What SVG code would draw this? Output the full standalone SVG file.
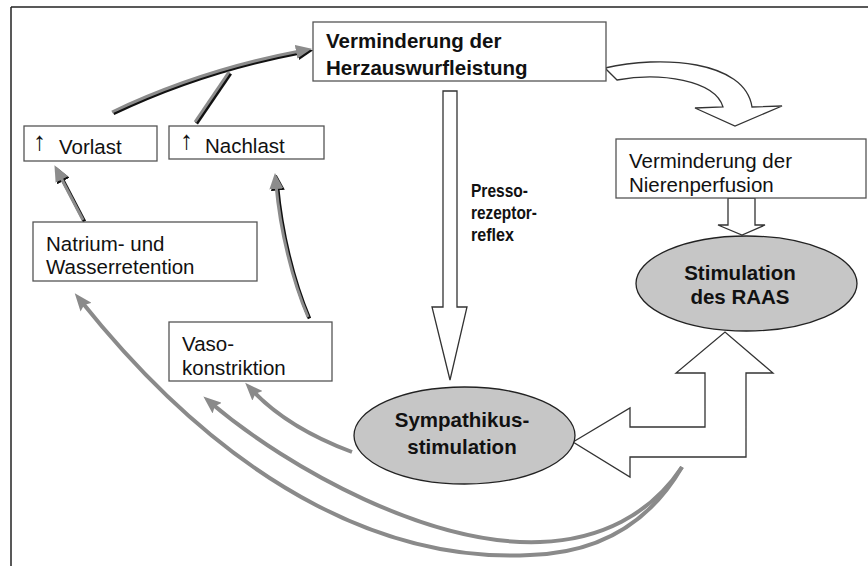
<svg xmlns="http://www.w3.org/2000/svg" width="868" height="566" viewBox="0 0 868 566">
<style>
.box{fill:#fff;stroke:#555;stroke-width:1.3}
.ell{fill:#c6c6c6;stroke:#222;stroke-width:1.3}
.hollow{fill:#fff;stroke:#333;stroke-width:1.3;stroke-linejoin:miter}
.t{font-family:"Liberation Sans",Arial,sans-serif;font-size:20.5px;fill:#111}
.b{font-weight:bold}
.ps{font-family:"Liberation Sans",Arial,sans-serif;font-size:18.5px;font-weight:bold;fill:#111}
.up{font-family:"Liberation Sans",Arial,sans-serif;font-size:26px;fill:#111}
.g{fill:none;stroke:#8a8a8a;stroke-width:4}
.dk{fill:none;stroke:#111;stroke-width:3.5}
.dg{fill:none;stroke:#8c8c8c;stroke-width:3}
</style>
<defs>
<marker id="hg" viewBox="0 0 18 14" refX="8" refY="7" markerWidth="18" markerHeight="14" orient="auto" markerUnits="userSpaceOnUse">
<path d="M0,0 L18,7 L0,14 L3,7 Z" fill="#8a8a8a"/>
</marker>
<marker id="hk" viewBox="0 0 16 14" refX="4" refY="7" markerWidth="16" markerHeight="14" orient="auto" markerUnits="userSpaceOnUse">
<path d="M0,0 L16,7 L0,14 Z" fill="#111"/>
</marker>
<marker id="hd" viewBox="0 0 16 14" refX="4" refY="7" markerWidth="16" markerHeight="14" orient="auto" markerUnits="userSpaceOnUse">
<path d="M0,0 L16,7 L0,14 Z" fill="#8c8c8c"/>
</marker>
</defs>
<g id="frame" fill="none" stroke="#222" stroke-width="1.5">
<line x1="11" y1="7" x2="868" y2="7"/>
<line x1="11" y1="7" x2="11" y2="566"/>
</g>
<g id="connectors">
<path class="hollow" d="M605,68 C660,55 745,60 752,107 L782,106 L735,126 L695,108 L723,107 C715,80 660,72 617,80 Z"/>
<path class="hollow" d="M443,91 L457,91 L457,307 L467,307 L450,380 L432,307 L443,307 Z"/>
<path class="hollow" d="M728,198 L755,198 L755,225 L765,225 L742,235 L718,225 L728,225 Z"/>
<path class="hollow" d="M573,442 L630,408 L630,427 L705,427 L705,373 L676,373 L725,332 L773,373 L746,373 L746,457 L630,457 L630,477 Z"/>
<g transform="translate(1.5,1.5)">
<path class="dk" d="M112,112 Q200,70 300,51" marker-end="url(#hk)"/>
<path class="dk" d="M195,122 L229,72"/>
<path class="dk" d="M83,220 L60,176" marker-end="url(#hk)"/>
<path class="dk" d="M308,317 C292,280 280,230 276,185" marker-end="url(#hk)"/>
</g>
<path class="dg" d="M112,112 Q200,70 300,51" marker-end="url(#hd)"/>
<path class="dg" d="M195,122 L229,72"/>
<path class="dg" d="M83,220 L60,176" marker-end="url(#hd)"/>
<path class="dg" d="M308,317 C292,280 280,230 276,185" marker-end="url(#hd)"/>
<path class="g" d="M352,452 C320,440 280,420 252,390" marker-end="url(#hg)"/>
<path class="g" d="M682,467 C650,515 600,540 540,542 C430,546 290,470 211,403" marker-end="url(#hg)"/>
<path class="g" d="M682,467 C650,522 600,553 530,555 C400,562 240,500 81,301" marker-end="url(#hg)"/>
</g>
<g id="herzauswurf">
<rect class="box" x="313" y="22" width="293" height="59"/>
<text class="t b" x="326" y="48">Verminderung der</text>
<text class="t b" x="326" y="75">Herzauswurfleistung</text>
</g>
<g id="vorlast">
<rect class="box" x="24" y="126" width="133" height="35"/>
<text class="up" x="33" y="150">↑</text>
<text class="t" x="59" y="154">Vorlast</text>
</g>
<g id="nachlast">
<rect class="box" x="169" y="126" width="155" height="33"/>
<text class="up" x="180" y="149">↑</text>
<text class="t" x="205" y="153">Nachlast</text>
</g>
<g id="natrium">
<rect class="box" x="33" y="222" width="224" height="59"/>
<text class="t" x="46" y="251">Natrium- und</text>
<text class="t" x="46" y="274">Wasserretention</text>
</g>
<g id="vaso">
<rect class="box" x="169" y="322" width="163" height="59"/>
<text class="t" x="182" y="351">Vaso-</text>
<text class="t" x="182" y="375">konstriktion</text>
</g>
<g id="nieren">
<rect class="box" x="616" y="139" width="250" height="59"/>
<text class="t" x="629" y="168">Verminderung der</text>
<text class="t" x="629" y="192">Nierenperfusion</text>
</g>
<g id="presso">
<text class="ps" x="471" y="197" textLength="57" lengthAdjust="spacingAndGlyphs">Presso-</text>
<text class="ps" x="471" y="219" textLength="66" lengthAdjust="spacingAndGlyphs">rezeptor-</text>
<text class="ps" x="471" y="241" textLength="43" lengthAdjust="spacingAndGlyphs">reflex</text>
</g>
<g id="raas">
<ellipse class="ell" cx="746.5" cy="283.5" rx="110.5" ry="47.5"/>
<text class="t b" x="740" y="280" text-anchor="middle">Stimulation</text>
<text class="t b" x="740" y="304" text-anchor="middle">des RAAS</text>
</g>
<g id="sympathikus">
<ellipse class="ell" cx="464.5" cy="435.5" rx="110.5" ry="48.5"/>
<text class="t b" x="462" y="427" text-anchor="middle">Sympathikus-</text>
<text class="t b" x="462" y="454" text-anchor="middle">stimulation</text>
</g>
</svg>
